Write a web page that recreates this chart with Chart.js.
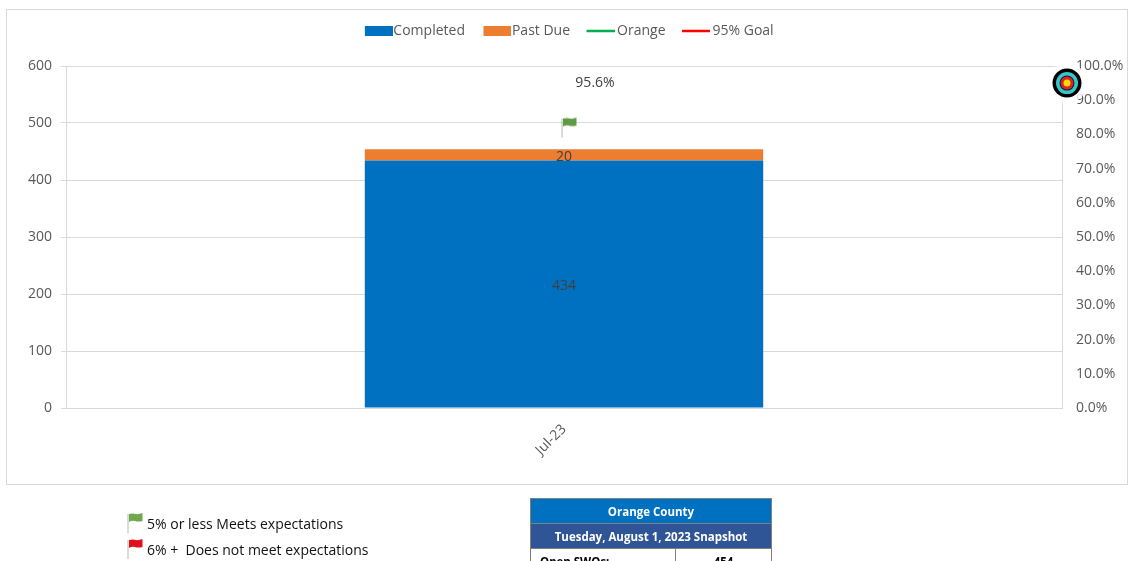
<!DOCTYPE html>
<html>
<head>
<meta charset="utf-8">
<title>Orange County</title>
<script src="https://cdn.jsdelivr.net/npm/chart.js@4/dist/chart.umd.min.js"></script>
<style>
html, body { margin: 0; padding: 0; width: 1130px; height: 561px; overflow: hidden; background: #fff; }
#frame { position: absolute; left: 6px; top: 9px; width: 1120px; height: 474px; border: 1px solid #d9d9d9; }
#wrap { position: absolute; left: 0; top: 0; width: 1130px; height: 561px; }
.note { position: absolute; left: 128px; font: 14px "Open Sans", sans-serif; color: #111; white-space: nowrap; }
.note canvas { position: absolute; left: -2px; top: -3px; }
.note span { margin-left: 19px; }
#snap { position: absolute; left: 530px; top: 498px; width: 242px; border-collapse: collapse; table-layout: fixed; font: bold 11.5px "Open Sans", sans-serif; text-align: center; }
#snap td { border: 1px solid #7f7f7f; height: 25px; padding: 0; box-sizing: border-box; }
#snap .t1 { background: #0070c0; color: #fff; }
#snap .t2 { background: #2f5597; color: #fff; }
#snap .lbl { text-align: left; padding-left: 9px; color: #000; }
</style>
</head>
<body>
<div id="frame"></div>
<div id="wrap"><canvas id="chart" width="1130" height="561"></canvas></div>
<div class="note" style="top:514px"><canvas id="flag_green" width="20" height="24"></canvas><span>5% or less Meets expectations</span></div>
<div class="note" style="top:540px"><canvas id="flag_red" width="20" height="24"></canvas><span>6% +&nbsp; Does not meet expectations</span></div>
<table id="snap">
  <colgroup><col style="width:145px"><col></colgroup>
  <tr><td class="t1" colspan="2">Orange County</td></tr>
  <tr><td class="t2" colspan="2">Tuesday, August 1, 2023 Snapshot</td></tr>
  <tr><td class="lbl">Open SWOs:</td><td>454</td></tr>
</table>
<script>
const months = ['Jul-23'];
const completed = [434];
const past_due = [20];
const orange_pct = [95.6];
const goal_pct = [95];
const flag_level = [492];

const blue = '#0070c0';
const orange = '#ed7d31';
const text_color = '#595959';
const grid_color = '#d9d9d9';

// legend swatches: left_pad moves the colour off the legend's box centre
function swatch(color, height, left_pad)
{
    const c = document.createElement('canvas');
    c.width = 28 + left_pad;
    c.height = 10;
    const g = c.getContext('2d');
    g.fillStyle = color;
    g.fillRect(left_pad, (10 - height) / 2, 28, height);
    return c;
}

function draw_flag(g, color, x, y)
{
    g.strokeStyle = 'rgba(150,175,130,0.8)';
    g.lineWidth = 1;
    g.beginPath();
    g.moveTo(x + 1, y + 2);
    g.lineTo(x + 1, y + 21);
    g.stroke();
    g.fillStyle = color;
    g.beginPath();
    g.moveTo(x + 2, y + 2);
    g.quadraticCurveTo(x + 6, y + 1, x + 9, y + 2);
    g.quadraticCurveTo(x + 12, y + 2.5, x + 15.5, y + 1);
    g.lineTo(x + 15.5, y + 9);
    g.quadraticCurveTo(x + 11, y + 10, x + 8, y + 9);
    g.quadraticCurveTo(x + 5, y + 8, x + 2, y + 10);
    g.closePath();
    g.fill();
}

function flag_canvas()
{
    const c = document.createElement('canvas');
    c.width = 34;
    c.height = 24;
    draw_flag(c.getContext('2d'), '#5f9a45', 14, 1);
    return c;
}

draw_flag(document.getElementById('flag_green').getContext('2d'), '#70a850', 1, 1);
draw_flag(document.getElementById('flag_red').getContext('2d'), '#e0101c', 1, 1);

// value labels on the bars and the percentage
const value_labels = {
    id: 'value_labels',
    afterDatasetsDraw(chart)
    {
        const g = chart.ctx;
        g.save();
        g.font = '14px "Open Sans", sans-serif';
        g.fillStyle = '#404040';
        g.textAlign = 'center';
        g.textBaseline = 'middle';
        const bar1 = chart.getDatasetMeta(0).data[0];
        const bar2 = chart.getDatasetMeta(1).data[0];
        const line = chart.getDatasetMeta(2).data[0];
        g.fillText(completed[0], bar1.x, (bar1.y + bar1.base) / 2 + 2);
        g.fillText(past_due[0], bar2.x, (bar2.y + bar2.base) / 2 + 2);
        g.fillText(orange_pct[0].toFixed(1) + '%', line.x + 31, line.y + 2);
        g.restore();
    }
};

// goal marker sits just past the right edge of the plot at the goal value
const goal_target = {
    id: 'goal_target',
    afterDraw(chart)
    {
        const g = chart.ctx;
        const x = chart.chartArea.right + 5;
        const y = chart.scales.y2.getPixelForValue(goal_pct[0]);
        const rings = [[20, 'rgba(255,255,255,0.8)'], [14.5, '#000000'], [11, '#33c6cc'], [7.5, '#1a1a1a'], [6.5, '#d8232a'], [3.5, '#ffd800']];
        g.save();
        rings.forEach(r => {
            g.beginPath();
            g.arc(x, y, r[0], 0, Math.PI * 2);
            g.fillStyle = r[1];
            g.fill();
        });
        g.restore();
    }
};

// extra room under the legend
const legend_gap = {
    id: 'legend_gap',
    beforeInit(chart)
    {
        const fit = chart.legend.fit;
        chart.legend.fit = function()
        {
            fit.call(this);
            this.height += 18;
        };
    }
};

const ctx = document.getElementById('chart').getContext('2d');
const main_chart = new Chart(ctx, {
    data: {
        labels: months,
        datasets: [
            { type: 'bar', label: 'Completed', data: completed, backgroundColor: blue, yAxisID: 'y', barPercentage: 0.4, categoryPercentage: 1, order: 3 },
            { type: 'bar', label: 'Past Due', data: past_due, backgroundColor: orange, yAxisID: 'y', barPercentage: 0.4, categoryPercentage: 1, order: 3 },
            { type: 'line', label: 'Orange', data: orange_pct, borderColor: '#00b050', yAxisID: 'y2', pointRadius: 0, order: 2 },
            { type: 'line', label: '95% Goal', data: goal_pct, borderColor: '#ff0000', yAxisID: 'y2', pointRadius: 0, order: 2 },
            { type: 'line', label: 'flag', data: flag_level, yAxisID: 'y', showLine: false, pointStyle: flag_canvas(), order: 1 }
        ]
    },
    options: {
        responsive: false,
        animation: false,
        layout: { padding: { left: 8, top: 6 } },
        plugins: {
            tooltip: { enabled: false },
            legend: {
                position: 'top',
                labels: {
                    usePointStyle: true,
                    pointStyleWidth: 22,
                    padding: 18,
                    font: { family: '"Open Sans", sans-serif', size: 14 },
                    color: text_color,
                    generateLabels(chart)
                    {
                        const swatches = [swatch(blue, 10, 7), swatch(orange, 10, 7), swatch('#00b050', 2.5, 3), swatch('#ff0000', 2.5, 3)];
                        return swatches.map((s, i) => ({
                            text: chart.data.datasets[i].label,
                            pointStyle: s,
                            datasetIndex: i,
                            fontColor: text_color,
                            lineWidth: 0
                        }));
                    }
                }
            }
        },
        scales: {
            x: {
                stacked: true,
                afterFit(scale) { scale.height = 153; },
                grid: { display: false, drawTicks: true, tickLength: 5, color: grid_color, offset: true },
                border: { color: grid_color },
                ticks: { color: text_color, font: { family: '"Open Sans", sans-serif', size: 14 }, minRotation: 45, maxRotation: 45, padding: 8 }
            },
            y: {
                stacked: true,
                min: 0,
                max: 600,
                afterFit(scale) { scale.width = 58; },
                grid: { color: grid_color, tickLength: 5 },
                border: { color: grid_color },
                ticks: { stepSize: 100, color: text_color, font: { family: '"Open Sans", sans-serif', size: 14 }, padding: 9 }
            },
            y2: {
                position: 'right',
                min: 0,
                max: 100,
                afterFit(scale) { scale.width = 68; },
                grid: { drawOnChartArea: false, drawTicks: false },
                border: { color: grid_color },
                ticks: { stepSize: 10, color: text_color, font: { family: '"Open Sans", sans-serif', size: 14 }, padding: 14, callback: v => v.toFixed(1) + '%' }
            }
        }
    },
    plugins: [value_labels, goal_target, legend_gap]
});
</script>
</body>
</html>
